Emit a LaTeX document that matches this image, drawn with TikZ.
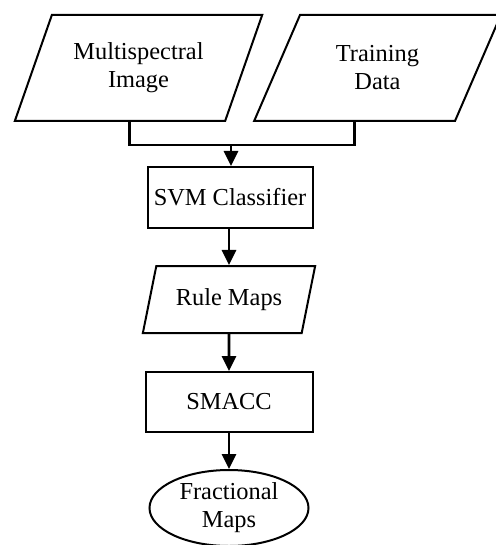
\documentclass[tikz,border=0pt]{standalone}
\usepackage{fontspec}
\setmainfont{Liberation Serif}
\usetikzlibrary{arrows.meta,shapes.geometric}

\tikzset{
  flowtext/.style={font=\fontsize{12.2}{14}\selectfont, align=center, inner sep=0pt},
  datashape/.style={flowtext, draw, line width=1pt, trapezium, trapezium stretches=true,
    trapezium left angle=#1, trapezium right angle={180-#1}},
  procbox/.style={flowtext, draw, line width=1pt, rectangle},
  flowline/.style={line width=1.4pt},
  flowarrow/.style={flowline, -{Triangle[length=7.5pt,width=7pt]}}
}

\begin{document}
\begin{tikzpicture}[x=0.5pt, y=-0.5pt]
		%%%%% START %%%%%
		\useasboundingbox (0, 0) rectangle (496, 545);
		
		% inputs
		\node[datashape=61, minimum width=124.5pt, minimum height=53pt] (img) at (138.5, 68) {Multispectral\\Image};
		\node[datashape=61, minimum width=123.5pt, minimum height=53pt] (train) at (377.5, 68) {Training\\Data};
		
		% processing chain
		\node[procbox, minimum width=82.5pt, minimum height=30.5pt] (svm) at (230, 197.5) {SVM Classifier};
		\node[datashape=66, minimum width=86.5pt, minimum height=33.5pt] (rule) at (229, 299.5) {Rule Maps};
		\node[procbox, minimum width=83.5pt, minimum height=30pt] (smacc) at (229, 402) {SMACC};
		\node[flowtext, draw, line width=1pt, ellipse, minimum width=79.5pt, minimum height=38pt] (frac) at (229, 508) {Fractional\\Maps};
		
		% joining the two inputs
		\coordinate (join) at (231, 145);
		\draw[flowline] ([xshift=4.75pt]img.bottom side) |- (join) -| (train.bottom side);
		\draw[flowarrow] (join) -- (join |- svm.north);
		
		\draw[flowarrow] (svm.south -| rule.north) -- (rule.north);
		\draw[flowarrow] (rule) -- (smacc);
		\draw[flowarrow] (smacc) -- (frac);
		
		%%%%% END %%%%%
	\end{tikzpicture}
\end{document}
